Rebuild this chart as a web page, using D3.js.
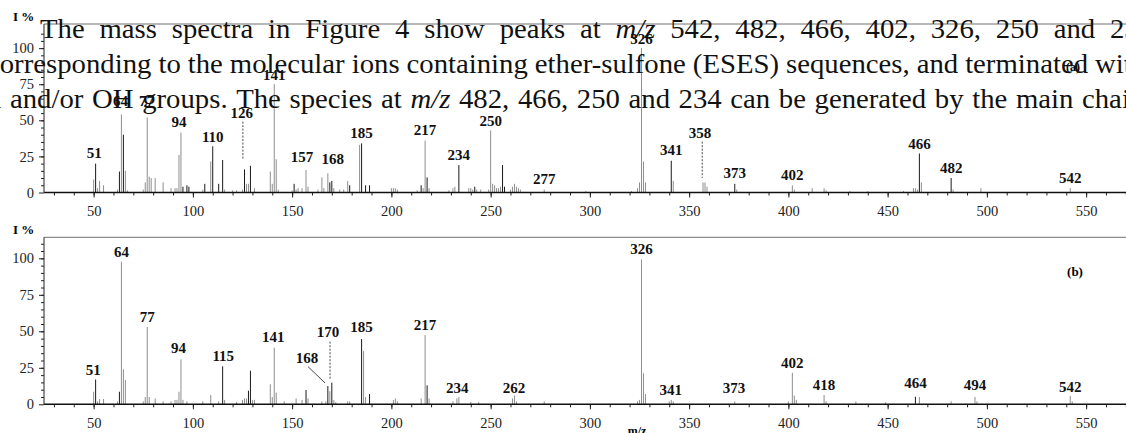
<!DOCTYPE html>
<html>
<head>
<meta charset="utf-8">
<script src="https://cdn.jsdelivr.net/npm/d3@7"></script>
<style>
  html, body { margin: 0; padding: 0; background: #fff; overflow: hidden; }
  svg { display: block; }
  svg text { font-family: 'Liberation Serif', 'Times New Roman', Times, serif; }
</style>
</head>
<body>
<svg id="fig" width="1126" height="433"></svg>
<script>
// ---------- data: m/z ticks ----------
const mzTicksMajor = [50, 100, 150, 200, 250, 300, 350, 400, 450, 500, 550];
const mzTicksMinor = d3.range(30, 571, 10);
const intTicksMajor = [0, 25, 50, 75, 100];
const intTicksMinor = d3.range(5, 111, 5);

// ---------- spectrum (a): [m/z, relative intensity %] ----------
const grayPeaksA = [
  [50, 9], [52, 3], [53, 8], [55, 5], [62, 2], [64, 54], [66, 15], [67, 1.5],
  [75, 2], [76, 7], [77, 52], [78, 11], [79, 10], [81, 10], [85, 7], [89, 3],
  [91, 3], [92, 3], [93, 26], [94, 41.5], [105, 2], [109, 21.5], [116, 2],
  [120, 1.5], [122, 1.5], [125, 2], [127, 6], [128, 6], [131, 3], [139, 14.5],
  [140, 6], [141, 75], [142, 23], [143, 2], [150, 1.5], [152, 2], [153, 3],
  [155, 3], [157, 15.5], [158, 4], [163, 2], [165, 10.5], [166, 3], [168, 13.3],
  [171, 3], [174, 2], [176, 2], [178, 8], [184, 33], [200, 3], [201, 3], [202, 3],
  [203, 2], [213, 1.5], [216, 3], [217, 36], [219, 3], [229, 1.5], [231, 3],
  [232, 4], [239, 3], [240, 3], [241, 2], [243, 2], [245, 2], [249, 2], [250, 43],
  [251, 6], [252, 5], [253, 3], [254, 3], [255, 4], [260, 2], [261, 4], [262, 6],
  [263, 4], [264, 3], [265, 2], [277, 2], [298, 1], [321, 1], [324, 3], [325, 7],
  [326, 100], [327, 21.5], [328, 7], [342, 8], [357, 7], [358, 7], [359, 4],
  [374, 2], [402, 5], [403, 2], [412, 3], [418, 3], [419, 1.5], [431, 1],
  [440, 1], [458, 1], [463, 3], [464, 3], [465, 2], [467, 7], [483, 2], [497, 3],
  [542, 3]
];
const blackPeaksA = [
  [51, 20], [63, 14.5], [65, 40], [95, 4], [97, 5], [98, 4], [106, 6], [110, 32],
  [113, 6], [115, 22.5], [126, 16], [129, 18.5], [151, 6], [169, 7], [170, 8],
  [179, 5], [185, 34], [187, 5], [189, 5], [215, 5], [218, 10.5], [234, 19],
  [242, 4], [256, 19], [257, 4], [341, 22], [373, 6], [466, 27], [482, 10]
];
// peak labels: [text, m/z position, intensity level of baseline]
const labelsA = [
  ['51', 50.3, 23.7], ['64', 63.5, 60], ['77', 76.7, 60], ['94', 93, 45.6],
  ['110', 110, 35.2], ['126', 124.6, 51.9], ['141', 141, 78], ['157', 155, 21.4],
  ['168', 170.5, 19.8], ['185', 185, 37.6], ['217', 217, 39.9], ['234', 234, 22.5],
  ['250', 250, 46.1], ['277', 277, 5.9], ['326', 326, 103], ['341', 341, 26],
  ['358', 355.5, 38], ['373', 373, 9.8], ['402', 402, 8.7], ['466', 466, 30],
  ['482', 482, 13.7], ['542', 542, 6.8]
];
// leader lines: [m/z from, level from, m/z to, level to, dashed]
const leadersA = [
  [125.2, 49.1, 125.2, 23.2, true],
  [356.6, 35.2, 356.6, 10.1, true]
];

// ---------- spectrum (b) ----------
const grayPeaksB = [
  [50, 8.6], [52, 2], [53, 3.6], [55, 3.6], [62, 2], [64, 97.7], [65, 24],
  [66, 16.6], [75, 2], [76, 5], [77, 53], [78, 5], [81, 4], [85, 2], [89, 2],
  [91, 3], [92, 3], [93, 8.6], [94, 30.8], [95, 3], [97, 2], [105, 2], [109, 6.4],
  [113, 2], [116, 3], [122, 1.5], [125, 3], [126, 4], [127, 4], [130, 3], [131, 3],
  [139, 13.7], [140, 5], [141, 38.8], [142, 8], [146, 2], [152, 4], [155, 3],
  [158, 4], [165, 2], [167, 2], [169, 9], [171, 3], [172, 1.5], [178, 2],
  [179, 2], [186, 36.5], [187, 5], [201, 3], [202, 4], [203, 2], [215, 4],
  [217, 47.5], [219, 4], [231, 2], [233, 4], [234, 5], [240, 1.5], [244, 1.5],
  [261, 4], [262, 6], [263, 2], [277, 2], [324, 2], [325, 3], [326, 99.3],
  [327, 21.2], [328, 7], [340, 2], [341, 3], [342, 2], [373, 2], [400, 2],
  [402, 21.6], [403, 6], [404, 3], [418, 6.4], [419, 2], [434, 2], [449, 1.5],
  [466, 5], [482, 2], [494, 5], [495, 2], [542, 5.7], [543, 2]
];
const blackPeaksB = [
  [51, 17], [63, 8.6], [115, 26], [128, 9.3], [129, 23], [157, 9.8], [168, 12.5],
  [170, 14.8], [185, 44.7], [189, 7], [218, 13], [464, 5.2]
];
const labelsB = [
  ['51', 49.8, 20.1], ['64', 64, 100.7], ['77', 77, 56.6], ['94', 92.7, 34.9],
  ['115', 115.3, 29.9], ['141', 140.5, 42.9], ['168', 157.5, 28.5], ['170', 168.1, 45.9],
  ['185', 185, 49.7], ['217', 217, 50.9], ['234', 233.2, 7.9], ['262', 261.8, 7.9],
  ['326', 326, 102.7], ['341', 340.7, 6.4], ['373', 372.6, 7.5], ['402', 402, 24.7],
  ['418', 418, 9.8], ['464', 464, 11], ['494', 494, 9.8], ['542', 542, 8.6]
];
const leadersB = [
  [158, 25.8, 166.6, 14.6, false],
  [169.1, 42.9, 169.1, 17.3, true]
];

// ---------- running text set over the figure ----------
// from/to: [word index, x of that word's left edge]; gap: word spacing (null = justify)
const textLines = [
  { text: 'The mass spectra in Figure 4 show peaks at m/z 542, 482, 466, 402, 326, 250 and 234',
    y: 38, from: [0, 40], to: [17, 1110], gap: null },
  { text: 'corresponding to the molecular ions containing ether-sulfone (ESES) sequences, and terminated with',
    y: 73, from: [0, -13], to: [11, 1095], gap: 8 },
  { text: 'Cl and/or OH groups. The species at m/z 482, 466, 250 and 234 can be generated by the main chain',
    y: 108, from: [1, 10], to: [19, 1082], gap: 8 }
];

// ---------- drawing ----------
const W = 1126;
const svg = d3.select('#fig');
const serif = "'Liberation Serif', 'Times New Roman', Times, serif";
const x = d3.scaleLinear().domain([25, 575]).range([44, 1135.75]);

const panels = [
  { id: 'a', top: 24, zero: 192.5, yMax: 116.7, gray: grayPeaksA, black: blackPeaksA,
    labels: labelsA, leaders: leadersA, tag: '(a)', tagX: 1073, tagY: 71, tagSize: 12, axisTitle: false },
  { id: 'b', top: 237.3, zero: 404.3, yMax: 114.4, gray: grayPeaksB, black: blackPeaksB,
    labels: labelsB, leaders: leadersB, tag: '(b)', tagX: 1075, tagY: 276, tagSize: 13, axisTitle: true }
];

const styleText = (sel, size, weight) => sel
  .style('font-family', serif).style('font-size', size + 'px')
  .style('font-weight', weight || 'normal');

panels.forEach(p => {
  const y = d3.scaleLinear().domain([0, p.yMax]).range([p.zero, p.top]);
  const g = svg.append('g').attr('class', 'panel-' + p.id);

  // frame top edge
  g.append('line')
    .attr('x1', x(25)).attr('x2', W)
    .attr('y1', p.top).attr('y2', p.top)
    .attr('stroke', '#707070').attr('stroke-width', 1);

  // stick spectrum
  const sticks = (data, color) => g.append('g').selectAll('line').data(data).join('line')
    .attr('x1', d => x(d[0])).attr('x2', d => x(d[0]))
    .attr('y1', p.zero).attr('y2', d => y(d[1]))
    .attr('stroke', color).attr('stroke-width', 1);
  sticks(p.gray, '#8e8e8e');
  sticks(p.black, '#1a1a1a');

  // x axis: minor then major ticks
  const xMinor = g.append('g').attr('transform', `translate(0,${p.zero})`)
    .call(d3.axisBottom(x).tickValues(mzTicksMinor).tickSize(3).tickFormat(''));
  const xMajor = g.append('g').attr('transform', `translate(0,${p.zero})`)
    .call(d3.axisBottom(x).tickValues(mzTicksMajor).tickSize(5).tickPadding(8));
  [xMinor, xMajor].forEach(a => {
    a.attr('font-family', null);
    a.select('.domain').remove();
    a.selectAll('line').attr('stroke', '#222');
    styleText(a.selectAll('text'), 14.5).attr('fill', '#222');
  });
  g.append('line')
    .attr('x1', x(25)).attr('x2', W).attr('y1', p.zero).attr('y2', p.zero)
    .attr('stroke', '#111').attr('stroke-width', 1.6);

  // y axis
  const yMinor = g.append('g').attr('transform', `translate(${x(25)},0)`)
    .call(d3.axisLeft(y).tickValues(intTicksMinor).tickSize(3).tickFormat(''));
  const yMajor = g.append('g').attr('transform', `translate(${x(25)},0)`)
    .call(d3.axisLeft(y).tickValues(intTicksMajor).tickSize(5).tickPadding(5));
  [yMinor, yMajor].forEach(a => {
    a.attr('font-family', null);
    a.select('.domain').remove();
    a.selectAll('line').attr('stroke', '#222');
    styleText(a.selectAll('text'), 14.5).attr('fill', '#222');
  });
  g.append('line')
    .attr('x1', x(25)).attr('x2', x(25)).attr('y1', p.zero).attr('y2', p.top)
    .attr('stroke', '#222').attr('stroke-width', 1);

  // intensity axis title
  styleText(g.append('text').attr('x', 13).attr('y', p.top - 3), 13, 'bold').text('I %');

  // leader lines from labels down to their peaks
  g.append('g').selectAll('line').data(p.leaders).join('line')
    .attr('x1', d => x(d[0])).attr('y1', d => y(d[1]))
    .attr('x2', d => x(d[2])).attr('y2', d => y(d[3]))
    .attr('stroke', '#333').attr('stroke-width', 0.9)
    .attr('stroke-dasharray', d => d[4] ? '2,1.5' : null);

  // peak labels
  styleText(g.append('g').selectAll('text').data(p.labels).join('text'), 15, 'bold')
    .attr('x', d => x(d[1])).attr('y', d => y(d[2]))
    .attr('text-anchor', 'middle')
    .attr('fill', '#111')
    .text(d => d[0]);

  // panel tag
  styleText(g.append('text'), p.tagSize, 'bold')
    .attr('x', p.tagX).attr('y', p.tagY).attr('text-anchor', 'middle')
    .text(p.tag);

  if (p.axisTitle) {
    styleText(g.append('text'), 12, 'bold')
      .attr('x', 637).attr('y', 435).attr('text-anchor', 'middle')
      .text('m/z');
  }
});

// paragraph lines, set word by word
const fontPx = 27;
const para = textLines.map(line => {
  const g = svg.append('g').attr('class', 'para').attr('fill', '#111');
  const words = line.text.split(' ');
  const els = words.map(w => styleText(g.append('text'), fontPx)
    .style('font-style', w === 'm/z' ? 'italic' : 'normal').text(w));
  const natural = els.map(e => e.node().getComputedTextLength());
  return { line, els, natural };
});

// horizontal scale that gives the normal word spacing on the set-width lines
const fits = para.filter(d => d.line.gap !== null).map(d => {
  const [i, xa] = d.line.from, [j, xb] = d.line.to;
  const span = d3.sum(d.natural.slice(i, j));
  return (xb - xa - (j - i) * d.line.gap) / span;
});
const sx = Math.max(0.85, Math.min(1.3, d3.mean(fits)));

para.forEach(({ line, els, natural }) => {
  const widths = natural.map(w => w * sx);
  const [i, xa] = line.from, [j, xb] = line.to;
  const span = d3.sum(widths.slice(i, j));
  const gap = (xb - xa - span) / (j - i);
  let pos = xa;
  for (let k = i - 1; k >= 0; k--) pos -= widths[k] + gap;
  els.forEach((e, k) => {
    e.attr('transform', `translate(${pos},${line.y}) scale(${sx},1)`);
    pos += widths[k] + gap;
  });
});
</script>
</body>
</html>
